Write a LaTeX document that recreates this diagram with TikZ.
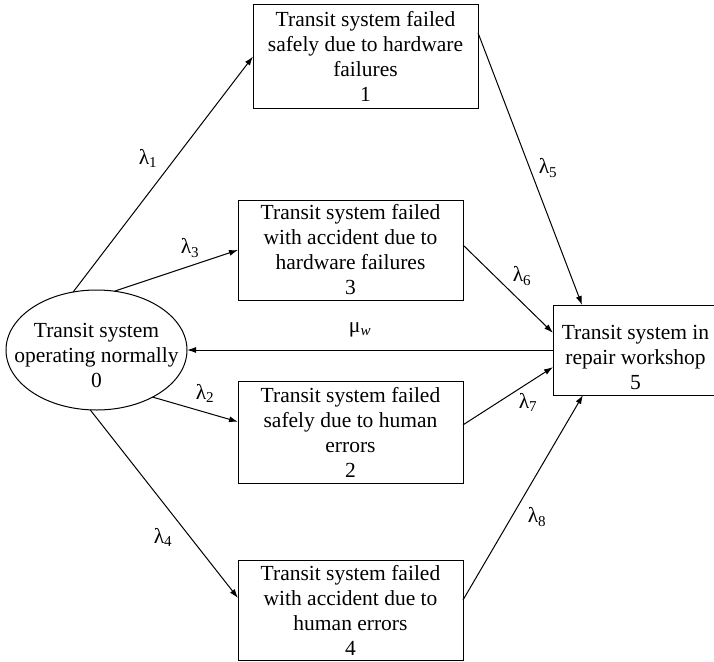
\documentclass[tikz,border=0pt]{standalone}
\usepackage{fontspec}
\setmainfont{Liberation Serif}
\usetikzlibrary{arrows.meta,shapes.geometric,calc}

\begin{document}
\begin{tikzpicture}[x=1pt,y=-1pt,
  every node/.style={font=\fontsize{21.5}{25}\selectfont},
  statebox/.style={draw, line width=1pt, rectangle, align=center,
    inner sep=0pt, outer sep=0pt, minimum width=225pt},
  stateoval/.style={draw, line width=1pt, ellipse, inner sep=0pt,
    outer sep=0pt, minimum width=181pt, minimum height=120pt},
  link/.style={draw, line width=1pt, -{Latex[length=9pt,width=6pt]}},
  rate/.style={inner sep=1pt}
]
\useasboundingbox (0,0) rectangle (714,661);

% states
\node[stateoval] (e0) at (96.5,350) {};
\node[align=center] (e0text) at (96.5,355) {Transit system\\operating normally\\0};
\node[statebox, minimum height=103pt] (b1) at (365.5,56.5)
  {Transit system failed\\safely due to hardware\\failures\\1};
\node[statebox, minimum height=100pt] (b3) at (350.5,250)
  {Transit system failed\\with accident due to\\hardware failures\\3};
\node[statebox, minimum height=102pt] (b2) at (350.5,432)
  {Transit system failed\\safely due to human\\errors\\2};
\node[statebox, minimum height=100pt] (b4) at (350.5,610)
  {Transit system failed\\with accident due to\\human errors\\4};
\node[statebox, minimum width=164pt, minimum height=90pt] (b5) at (635,350) {};
\node[align=center] (b5text) at (635.5,357) {Transit system in\\repair workshop\\5};

% transitions
\draw[link] (e0.112) -- (b1.west);
\draw[link] (e0.73) -- (b3.west);
\draw[link] (e0.-40) -- ($(b2.north west)!0.4!(b2.south west)$);
\draw[link] (e0.-96) -- ($(b4.north west)!0.38!(b4.south west)$);
\draw[link] ($(b1.north east)!0.27!(b1.south east)$) -- ($(b5.north west)!0.177!(b5.north east)$);
\draw[link] ($(b3.north east)!0.45!(b3.south east)$) -- ($(b5.north west)!0.31!(b5.south west)$);
\draw[link] ($(b2.north east)!0.43!(b2.south east)$) -- ($(b5.north west)!0.69!(b5.south west)$);
\draw[link] ($(b4.north east)!0.4!(b4.south east)$) -- ($(b5.south west)!0.183!(b5.south east)$);
\draw[link] (b5.west) -- (e0.east);

% rates
\node[rate] (l1) at (148,158) {λ\textsubscript{1}};
\node[rate] (l3) at (190,248) {λ\textsubscript{3}};
\node[rate] (l2) at (205,393) {λ\textsubscript{2}};
\node[rate] (l4) at (163,537) {λ\textsubscript{4}};
\node[rate] (l5) at (548,168) {λ\textsubscript{5}};
\node[rate] (l6) at (522,276) {λ\textsubscript{6}};
\node[rate] (l7) at (528,402) {λ\textsubscript{7}};
\node[rate] (l8) at (537,517) {λ\textsubscript{8}};
\node[rate] (mw) at (360,330) {μ\textsubscript{\textit{w}}};
\end{tikzpicture}
\end{document}
